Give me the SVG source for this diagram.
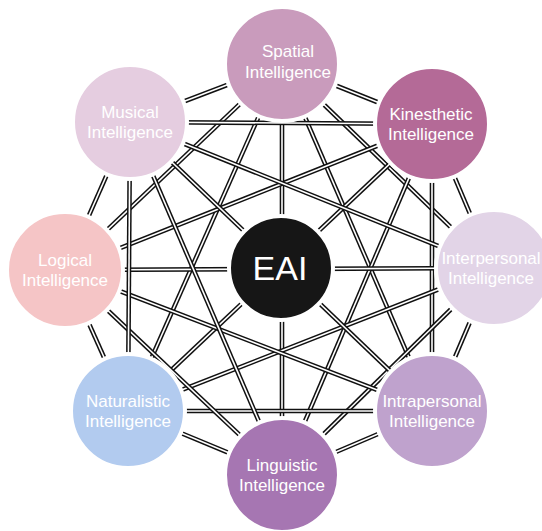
<svg xmlns="http://www.w3.org/2000/svg" width="542" height="531" viewBox="0 0 542 531">
<style>
.o{stroke:#111;stroke-width:4.6;fill:none}
.i{stroke:#fff;stroke-width:1.6;fill:none}
.node circle{stroke:#fff;stroke-width:4}
.node text{font-family:"Liberation Sans",Arial,sans-serif;font-size:17px;fill:#fff;text-anchor:middle}
#eai text{font-size:34px}
</style>
<rect width="542" height="531" fill="#fff"/>
<g id="connectors">
<line class="o" x1="282" y1="64" x2="432" y2="124"/><line class="i" x1="282" y1="64" x2="432" y2="124"/>
<line class="o" x1="282" y1="64" x2="493" y2="268"/><line class="i" x1="282" y1="64" x2="493" y2="268"/>
<line class="o" x1="282" y1="64" x2="432" y2="411"/><line class="i" x1="282" y1="64" x2="432" y2="411"/>
<line class="o" x1="282" y1="64" x2="282" y2="475"/><line class="i" x1="282" y1="64" x2="282" y2="475"/>
<line class="o" x1="282" y1="64" x2="128" y2="411"/><line class="i" x1="282" y1="64" x2="128" y2="411"/>
<line class="o" x1="282" y1="64" x2="65" y2="270"/><line class="i" x1="282" y1="64" x2="65" y2="270"/>
<line class="o" x1="282" y1="64" x2="130" y2="122"/><line class="i" x1="282" y1="64" x2="130" y2="122"/>
<line class="o" x1="432" y1="124" x2="493" y2="268"/><line class="i" x1="432" y1="124" x2="493" y2="268"/>
<line class="o" x1="432" y1="124" x2="432" y2="411"/><line class="i" x1="432" y1="124" x2="432" y2="411"/>
<line class="o" x1="432" y1="124" x2="282" y2="475"/><line class="i" x1="432" y1="124" x2="282" y2="475"/>
<line class="o" x1="432" y1="124" x2="128" y2="411"/><line class="i" x1="432" y1="124" x2="128" y2="411"/>
<line class="o" x1="432" y1="124" x2="65" y2="270"/><line class="i" x1="432" y1="124" x2="65" y2="270"/>
<line class="o" x1="432" y1="124" x2="130" y2="122"/><line class="i" x1="432" y1="124" x2="130" y2="122"/>
<line class="o" x1="493" y1="268" x2="432" y2="411"/><line class="i" x1="493" y1="268" x2="432" y2="411"/>
<line class="o" x1="493" y1="268" x2="282" y2="475"/><line class="i" x1="493" y1="268" x2="282" y2="475"/>
<line class="o" x1="493" y1="268" x2="128" y2="411"/><line class="i" x1="493" y1="268" x2="128" y2="411"/>
<line class="o" x1="493" y1="268" x2="65" y2="270"/><line class="i" x1="493" y1="268" x2="65" y2="270"/>
<line class="o" x1="493" y1="268" x2="130" y2="122"/><line class="i" x1="493" y1="268" x2="130" y2="122"/>
<line class="o" x1="432" y1="411" x2="282" y2="475"/><line class="i" x1="432" y1="411" x2="282" y2="475"/>
<line class="o" x1="432" y1="411" x2="128" y2="411"/><line class="i" x1="432" y1="411" x2="128" y2="411"/>
<line class="o" x1="432" y1="411" x2="65" y2="270"/><line class="i" x1="432" y1="411" x2="65" y2="270"/>
<line class="o" x1="432" y1="411" x2="130" y2="122"/><line class="i" x1="432" y1="411" x2="130" y2="122"/>
<line class="o" x1="282" y1="475" x2="128" y2="411"/><line class="i" x1="282" y1="475" x2="128" y2="411"/>
<line class="o" x1="282" y1="475" x2="65" y2="270"/><line class="i" x1="282" y1="475" x2="65" y2="270"/>
<line class="o" x1="282" y1="475" x2="130" y2="122"/><line class="i" x1="282" y1="475" x2="130" y2="122"/>
<line class="o" x1="128" y1="411" x2="65" y2="270"/><line class="i" x1="128" y1="411" x2="65" y2="270"/>
<line class="o" x1="128" y1="411" x2="130" y2="122"/><line class="i" x1="128" y1="411" x2="130" y2="122"/>
<line class="o" x1="65" y1="270" x2="130" y2="122"/><line class="i" x1="65" y1="270" x2="130" y2="122"/>
</g>
<g id="spatial" class="node"><circle cx="282" cy="64" r="57" fill="#c99bbc"/><text x="288" y="57">Spatial</text><text x="288" y="78">Intelligence</text></g>
<g id="kinesthetic" class="node"><circle cx="432" cy="124" r="57" fill="#b46a97"/><text x="431" y="120">Kinesthetic</text><text x="431" y="140">Intelligence</text></g>
<g id="interpersonal" class="node"><circle cx="494" cy="268" r="58" fill="#e2d4e7"/><text x="491" y="264">Interpersonal</text><text x="491" y="284">Intelligence</text></g>
<g id="intrapersonal" class="node"><circle cx="432" cy="411" r="57" fill="#bfa2cd"/><text x="432" y="407">Intrapersonal</text><text x="432" y="427">Intelligence</text></g>
<g id="linguistic" class="node"><circle cx="282" cy="475" r="57" fill="#a676b2"/><text x="282" y="471">Linguistic</text><text x="282" y="491">Intelligence</text></g>
<g id="naturalistic" class="node"><circle cx="128" cy="411" r="57" fill="#b2cbef"/><text x="128" y="407">Naturalistic</text><text x="128" y="427">Intelligence</text></g>
<g id="logical" class="node"><circle cx="65" cy="270" r="58" fill="#f5c5c6"/><text x="65" y="266">Logical</text><text x="65" y="286">Intelligence</text></g>
<g id="musical" class="node"><circle cx="130" cy="122" r="57" fill="#e5cde0"/><text x="130" y="118">Musical</text><text x="130" y="138">Intelligence</text></g>
<g id="eai" class="node"><circle cx="281" cy="268" r="52" fill="#161616"/><text x="280" y="280">EAI</text></g>
</svg>
